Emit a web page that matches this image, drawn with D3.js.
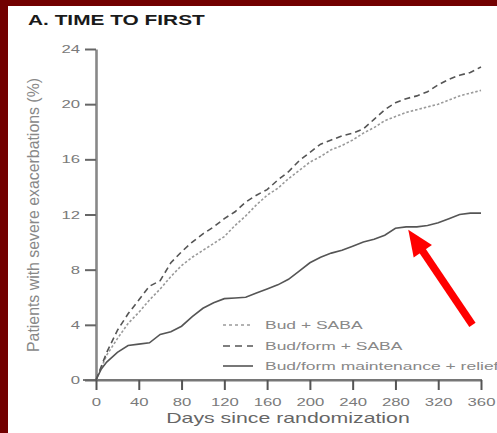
<!DOCTYPE html>
<html><head><meta charset="utf-8">
<script src="https://cdn.jsdelivr.net/npm/d3@7"></script>
<style>
html,body{margin:0;padding:0;background:#fff;}
svg{display:block;font-family:"Liberation Sans",Arial,sans-serif;}
</style></head>
<body><svg id="c" width="497" height="433"></svg>
<script>
const days = [0,5,10,20,30,40,50,60,70,80,90,100,110,120,130,140,150,160,170,180,190,200,210,220,230,240,250,260,270,280,290,300,310,320,330,340,350,360];
const budSaba = [0,0.9,1.8,3.0,4.1,4.9,5.8,6.6,7.5,8.3,8.9,9.4,9.9,10.4,11.2,11.9,12.7,13.4,13.9,14.6,15.2,15.8,16.2,16.7,17.0,17.4,17.9,18.3,18.8,19.1,19.4,19.6,19.8,20.0,20.3,20.6,20.8,21.0];
const budFormSaba = [0,1.0,2.0,3.6,4.8,5.8,6.8,7.2,8.5,9.3,10.0,10.6,11.1,11.7,12.2,12.9,13.4,13.8,14.5,15.1,15.9,16.5,17.1,17.4,17.7,17.9,18.2,18.9,19.6,20.1,20.4,20.6,20.9,21.4,21.8,22.1,22.3,22.7];
const budFormMaint = [0,0.8,1.3,2.0,2.5,2.6,2.7,3.3,3.5,3.9,4.6,5.2,5.6,5.9,5.95,6.0,6.3,6.6,6.9,7.3,7.9,8.5,8.9,9.2,9.4,9.7,10.0,10.2,10.5,11.0,11.1,11.1,11.2,11.4,11.7,12.0,12.1,12.1];
const seriesNames = ["Bud + SABA","Bud/form + SABA","Bud/form maintenance + relief"];
const xTicks = [0,40,80,120,160,200,240,280,320,360];
const yTicks = [0,4,8,12,16,20,24];
const titleText = "A. TIME TO FIRST";
const xTitle = "Days since randomization";
const yTitle = "Patients with severe exacerbations (%)";
const arrowTip = [292, 10.9];
const arrowTail = [352, 4.0];

const SX = 1.52;
const svg = d3.select("#c");
// border
svg.append("rect").attr("x",0).attr("y",0).attr("width",497).attr("height",433).attr("fill","#fff");
svg.append("rect").attr("x",0).attr("y",0).attr("width",497).attr("height",6).attr("fill","#720000");
svg.append("rect").attr("x",0).attr("y",0).attr("width",8).attr("height",433).attr("fill","#720000");

const x = d3.scaleLinear().domain([0,360]).range([96,481]);
const y = d3.scaleLinear().domain([0,24]).range([380,49]);

function stext(px,py,str,opts){
  const g = svg.append("g").attr("transform",`translate(${px},${py})`);
  const t = g.append("text").attr("transform",`scale(${opts.sx||SX},1)`)
    .attr("font-size",opts.size).attr("fill",opts.fill||"#777")
    .attr("font-weight",opts.weight||"normal")
    .attr("text-anchor",opts.anchor||"start").text(str);
  return t;
}

// title
stext(28,25,titleText,{size:14,weight:"bold",fill:"#1a1a1a",sx:1.49});

// extra x axis baseline extension
svg.append("line").attr("x1",83).attr("x2",482).attr("y1",380).attr("y2",380)
  .attr("stroke","#777").attr("stroke-width",2.2);

// y axis
const ya = svg.append("g").attr("transform","translate(96,0)")
  .call(d3.axisLeft(y).tickValues(yTicks).tickSize(11).tickSizeOuter(0).tickPadding(5));
ya.select(".domain").attr("stroke","#888").attr("stroke-width",2.6);
ya.selectAll(".tick line").attr("stroke","#666").attr("stroke-width",2);
ya.selectAll(".tick text").attr("font-size",11).attr("fill","#7a7a7a")
  .attr("font-family","Liberation Sans, Arial, sans-serif")
  .attr("transform",`scale(${SX},1)`).attr("x",-16/SX);

// x axis
const xa = svg.append("g").attr("transform","translate(0,380)")
  .call(d3.axisBottom(x).tickValues(xTicks).tickSize(10).tickSizeOuter(0).tickPadding(8));
xa.select(".domain").attr("stroke","#777").attr("stroke-width",2.2);
xa.selectAll(".tick line").attr("stroke","#555").attr("stroke-width",2);
xa.selectAll(".tick text").attr("font-size",11).attr("fill","#7a7a7a")
  .attr("font-family","Liberation Sans, Arial, sans-serif")
  .attr("transform",`scale(${SX},1)`);

// axis titles
stext(288,423,xTitle,{size:14,anchor:"middle",fill:"#666"});
svg.append("g").attr("transform","translate(39,215) scale(1.3,1) rotate(-90)")
  .append("text").attr("text-anchor","middle").attr("font-size",13).attr("fill","#888")
  .attr("textLength",274).attr("lengthAdjust","spacingAndGlyphs").text(yTitle);

// lines
const styles = [
  {data:budSaba, stroke:"#9a9a9a", dash:"2.5,2", w:1.6},
  {data:budFormSaba, stroke:"#555", dash:"6,4", w:1.6},
  {data:budFormMaint, stroke:"#555", dash:null, w:1.6}
];
const line = d3.line().x((d,i)=>x(days[i])).y(d=>y(d)).curve(d3.curveLinear);
styles.forEach(s=>{
  const p = svg.append("path").datum(s.data).attr("d",line).attr("fill","none")
    .attr("stroke",s.stroke).attr("stroke-width",s.w);
  if(s.dash) p.attr("stroke-dasharray",s.dash);
});

// legend
const legY = [325,346,366];
styles.forEach((s,i)=>{
  const l = svg.append("line").attr("x1",223).attr("x2",253).attr("y1",legY[i]).attr("y2",legY[i])
    .attr("stroke",s.stroke).attr("stroke-width",1.6);
  if(s.dash) l.attr("stroke-dasharray", i===0 ? "3,3" : "7,5");
  stext(265,legY[i]+4,seriesNames[i],{size:11.5,fill:"#888"});
});

// red arrow (in data coordinates)
const tip = [x(arrowTip[0]), y(arrowTip[1])];
const tail = [x(arrowTail[0]), y(arrowTail[1])];
const dx = tip[0]-tail[0], dy = tip[1]-tail[1];
const len = Math.hypot(dx,dy), ux = dx/len, uy = dy/len;
const headL = 26, headW = 11;
const base = [tip[0]-ux*headL, tip[1]-uy*headL];
svg.append("line").attr("x1",tail[0]).attr("y1",tail[1]).attr("x2",base[0]+ux*2).attr("y2",base[1]+uy*2)
  .attr("stroke","#ff0000").attr("stroke-width",7.5);
svg.append("path").attr("fill","#ff0000")
  .attr("d",`M${tip[0]},${tip[1]} L${base[0]-uy*headW},${base[1]+ux*headW} L${base[0]+uy*headW},${base[1]-ux*headW} Z`);
</script></body></html>
